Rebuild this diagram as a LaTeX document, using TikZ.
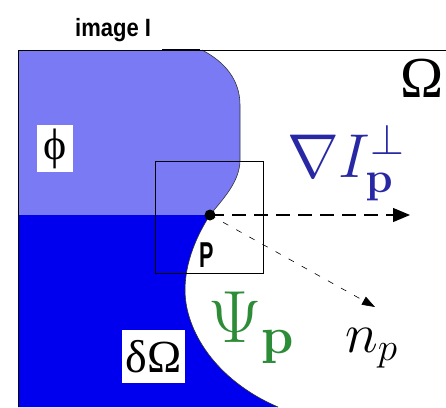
\RequirePackage{fix-cm}
\documentclass[tikz,border=0pt]{standalone}
\usepackage[no-math]{fontspec}
\usetikzlibrary{arrows.meta}
\newfontfamily\timesfont{Liberation Serif}
\newfontfamily\arialfont{Liberation Sans}
\definecolor{lightregion}{RGB}{122,122,245}
\definecolor{darkregion}{RGB}{0,0,238}
\definecolor{gradblue}{RGB}{40,40,165}
\definecolor{psigreen}{RGB}{45,140,55}
\begin{document}
\begin{tikzpicture}[x=1pt,y=-1pt,
  boxlabel/.style={fill=white,inner sep=0pt,font=\timesfont},
  mathlabel/.style={anchor=base west,inner sep=0pt}]
  \useasboundingbox (0,0) rectangle (446,407);
  % the two parts of the known region
  \fill[lightregion] (18,50) -- (202,50) .. controls (225,62) and (240,80) .. (240,105)
    -- (240,160) .. controls (240,182) and (222,200) .. (210,215) -- (18,215) -- cycle;
  \fill[darkregion] (18,215) -- (210,215) .. controls (197,235) and (185,262) .. (185,290)
    .. controls (185,330) and (215,380) .. (278,407) -- (18,407) -- cycle;
  \draw[line width=0.6pt,black!80] (202,50) .. controls (225,62) and (240,80) .. (240,105)
    -- (240,160) .. controls (240,182) and (222,200) .. (210,215)
    .. controls (197,235) and (185,262) .. (185,290)
    .. controls (185,330) and (215,380) .. (278,407);
  \draw (18,407) -- (18,50) -- (446,50);
  \draw[line width=1.6pt] (162,50) -- (200,50);
  \draw[line width=0.9pt] (155,161) rectangle (263,273);
  % point and its two directions
  \coordinate (p) at (210,215);
  \coordinate (gradtip) at (410,215);
  \coordinate (normtip) at (375,307);
  \draw[line width=1.2pt,dash pattern=on 14pt off 8pt,-{Triangle[length=17pt,width=14pt]}] (p) -- (gradtip);
  \draw[line width=0.6pt,dash pattern=on 6pt off 9pt,-{Triangle[length=13pt,width=9pt]}] (p) -- (normtip);
  \fill (p) circle (5.5);
  % labels
  \node[anchor=base west,inner sep=0pt,xscale=0.88,font=\arialfont\bfseries\fontsize{25}{25}\selectfont] (title) at (75,36) {image I};
  \node[boxlabel,minimum width=36pt,minimum height=47pt] (phi) at (55,148.5) {\fontsize{44}{44}\selectfont ϕ};
  \node[boxlabel,minimum width=63pt,minimum height=53pt] (boundary) at (153.5,356.5) {\fontsize{46}{46}\selectfont δΩ};
  \node[mathlabel,font=\timesfont\fontsize{58}{58}\selectfont] (omega) at (400,97) {Ω};
  \node[mathlabel,text=gradblue,font=\fontsize{62}{62}\selectfont] (grad) at (287,177) {$\nabla I_{\mathbf{p}}^{\perp}$};
  \node[mathlabel,text=psigreen,font=\fontsize{74}{74}\selectfont] (psi) at (208,342) {$\Psi_{\mathbf{p}}$};
  \node[mathlabel,font=\fontsize{56}{56}\selectfont] (normal) at (345,352) {$n_p$};
  \node[anchor=base west,inner sep=0pt,xscale=0.6,font=\arialfont\bfseries\fontsize{36}{36}\selectfont] (plabel) at (199,267) {P};
\end{tikzpicture}
\end{document}
